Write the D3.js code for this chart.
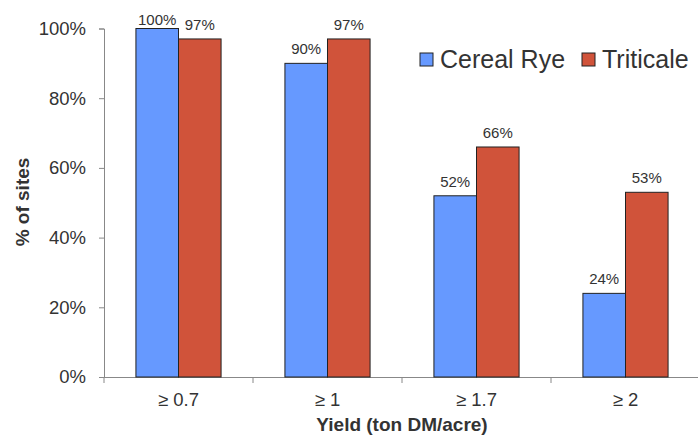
<!DOCTYPE html>
<html lang="en">
<head>
<meta charset="UTF-8"/>
<title>% of sites by yield</title>
<style>
  body { margin: 0; background: #fff; font-family: "Liberation Sans", Arial, sans-serif; }
  svg { display: block; }
  .tick text { fill: #333; }
  .axis_title { font-weight: bold; fill: #333; font-size: 19px; }
  .value_label { font-size: 15px; fill: #333; }
</style>
</head>
<body>
<svg width="698" height="436"></svg>
<script src="https://d3js.org/d3.v7.min.js"></script>
<script>
const categories = ["≥ 0.7", "≥ 1", "≥ 1.7", "≥ 2"];
const seriesNames = ["Cereal Rye", "Triticale"];
const cerealRye = [100, 90, 52, 24];
const triticale = [97, 97, 66, 53];
const yTicks = [0, 20, 40, 60, 80, 100];
const colors = ["#6699ff", "#d0533a"];

const svg = d3.select("svg");
const plotLeft = 104, plotRight = 700, plotTop = 28.5, plotBottom = 377;

const x = d3.scaleBand().domain(categories).range([plotLeft, plotRight]).paddingInner(0).paddingOuter(0);
const inner = d3.scaleBand().domain(seriesNames).range([0, x.bandwidth()]).paddingOuter(0.75).paddingInner(0);
const y = d3.scaleLinear().domain([0, 100]).range([plotBottom, plotTop]);

// Y axis
const yAxis = svg.append("g")
  .attr("transform", `translate(${plotLeft},0)`)
  .call(d3.axisLeft(y).tickValues(yTicks).tickFormat(d => d + "%").tickSize(5).tickPadding(13));
yAxis.selectAll("path, line").attr("stroke", "#888");
yAxis.selectAll("text").style("font-size", "18.5px").style("font-family", "Liberation Sans, Arial, sans-serif");

// X axis
const xAxis = svg.append("g")
  .attr("transform", `translate(0,${plotBottom})`)
  .call(d3.axisBottom(x).tickSize(0).tickPadding(16));
xAxis.select(".domain").attr("stroke", "#888").attr("d", `M${plotLeft},0.5H698`);
xAxis.selectAll("text").style("font-size", "18.5px").style("font-family", "Liberation Sans, Arial, sans-serif");
xAxis.selectAll(".bound").data(d3.range(categories.length + 1)).enter()
  .append("line")
  .attr("x1", i => plotLeft + i * x.bandwidth()).attr("x2", i => plotLeft + i * x.bandwidth())
  .attr("y1", 0).attr("y2", 6).attr("stroke", "#888");

// Bars
const data = [cerealRye, triticale];
data.forEach((vals, s) => {
  const g = svg.append("g");
  g.selectAll("rect").data(vals).enter().append("rect")
    .attr("x", (d, i) => x(categories[i]) + inner(seriesNames[s]))
    .attr("y", d => y(d))
    .attr("width", inner.bandwidth())
    .attr("height", d => plotBottom - y(d))
    .attr("fill", colors[s])
    .attr("stroke", "#222")
    .attr("stroke-width", 1);
  g.selectAll("text").data(vals).enter().append("text")
    .attr("class", "value_label")
    .attr("x", (d, i) => x(categories[i]) + inner(seriesNames[s]) + inner.bandwidth() / 2)
    .attr("y", d => Math.max(y(d) - 9, 25))
    .attr("text-anchor", "middle")
    .text(d => d + "%");
});

// Axis titles
svg.append("text").attr("class", "axis_title")
  .attr("x", 402).attr("y", 431)
  .attr("text-anchor", "middle")
  .text("Yield (ton DM/acre)");
svg.append("text").attr("class", "axis_title")
  .attr("transform", `translate(29,202) rotate(-90)`)
  .attr("text-anchor", "middle")
  .text("% of sites");

// Legend
const legend = svg.append("g").attr("transform", "translate(420,53)");
const legendX = [0, 162];
seriesNames.forEach((name, i) => {
  legend.append("rect")
    .attr("x", legendX[i]).attr("y", 0).attr("width", 13).attr("height", 13)
    .attr("fill", colors[i]).attr("stroke", "#222");
  legend.append("text")
    .attr("x", legendX[i] + 20).attr("y", 15)
    .attr("fill", "#333")
    .style("font-size", "25px")
    .text(name);
});
</script>
</body>
</html>
